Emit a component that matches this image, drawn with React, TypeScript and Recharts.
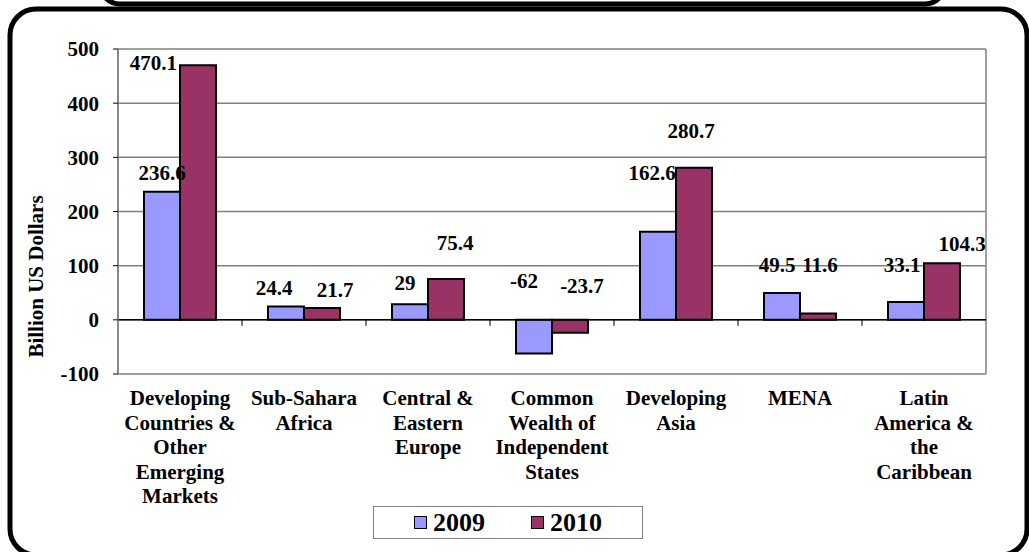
import { Bar, BarChart, CartesianGrid, LabelList, ReferenceLine, XAxis, YAxis } from "recharts";

const regions = [
  "Developing\nCountries &\nOther\nEmerging\nMarkets",
  "Sub-Sahara\nAfrica",
  "Central &\nEastern\nEurope",
  "Common\nWealth of\nIndependent\nStates",
  "Developing\nAsia",
  "MENA",
  "Latin\nAmerica &\nthe\nCaribbean",
];
const values2009 = [236.6, 24.4, 29, -62, 162.6, 49.5, 33.1];
const values2010 = [470.1, 21.7, 75.4, -23.7, 280.7, 11.6, 104.3];
const yTicks = [-100, 0, 100, 200, 300, 400, 500];
const seriesNames = ["2009", "2010"];

// hand-placed data labels in the original: [dx, dy] from the default spot
const nudge2009 = [[0, 0], [-12, 0], [-5, -2], [-10, -2], [-6, -40], [-5, -9], [-4, -18]];
const nudge2010 = [[0, 0], [13, 1], [9, -17], [12, 3], [-3, -18], [2, -30], [20, 0]];

const FONT = "'Liberation Serif', 'Times New Roman', serif";
const COLORS = ["#9999FF", "#993366"];
const GRID = "#808080";

const data = regions.map((name, i) => ({
  name,
  y2009: values2009[i],
  y2010: values2010[i],
}));

function RegionTick(props: any) {
  const { x, y, payload } = props;
  const lines = String(payload.value).split("\n");
  return (
    <text
      x={x}
      y={y + 31}
      textAnchor="middle"
      fontFamily={FONT}
      fontWeight="bold"
      fontSize={21}
      fill="#000"
    >
      {lines.map((line, i) => (
        <tspan key={i} x={x} dy={i === 0 ? 0 : 24.5}>
          {line}
        </tspan>
      ))}
    </text>
  );
}

function makeValueLabel(nudges: number[][]) {
  return function ValueLabel(props: any) {
    const vb = props.viewBox ?? props;
    const x = Number(vb.x ?? props.x);
    const y = Number(vb.y ?? props.y);
    const width = Number(vb.width ?? props.width);
    const height = Number(vb.height ?? props.height);
    const value = Number(props.value);
    const [dx, dy] = nudges[props.index ?? 0] ?? [0, 0];
    const top = Math.min(y, y + height);
    const style = { fontFamily: FONT, fontWeight: "bold" as const, fontSize: 21, fill: "#000" };

    // too close to the top of the plot: put it beside the bar
    if (top < 80) {
      return (
        <text x={x - 3 + dx} y={top + 5 + dy} textAnchor="end" {...style}>
          {value}
        </text>
      );
    }
    const lift = value < 0 ? 30 : 12;
    return (
      <text x={x + width / 2 + dx} y={top - lift + dy} textAnchor="middle" {...style}>
        {value}
      </text>
    );
  };
}

const Label2009 = makeValueLabel(nudge2009);
const Label2010 = makeValueLabel(nudge2010);

function ZeroLine(props: any) {
  const { x1, x2, y1 } = props;
  const step = (x2 - x1) / regions.length;
  const marks = regions.slice(1).map((_, i) => x1 + step * (i + 1));
  return (
    <g>
      <line x1={x1} x2={x2} y1={y1} y2={y1} stroke="#000" strokeWidth={1.5} />
      {marks.map((mx, i) => (
        <line key={i} x1={mx} x2={mx} y1={y1} y2={y1 + 6} stroke="#000" strokeWidth={1} />
      ))}
    </g>
  );
}

function AxisTitle(props: any) {
  const vb = props.viewBox ?? { x: 58, y: 49, width: 60, height: 325 };
  const cx = vb.x - 22;
  const cy = vb.y + vb.height * 0.7;
  return (
    <text
      x={cx}
      y={cy}
      transform={`rotate(-90, ${cx}, ${cy})`}
      textAnchor="middle"
      dominantBaseline="central"
      fontFamily={FONT}
      fontWeight="bold"
      fontSize={21}
      fill="#000"
    >
      Billion US Dollars
    </text>
  );
}

export default function App() {
  return (
    <div
      style={{
        position: "absolute",
        left: 0,
        top: 0,
        width: 1029,
        height: 552,
        background: "#FFFFFF",
        overflow: "hidden",
        fontFamily: FONT,
      }}
    >
      <BarChart
        width={1029}
        height={552}
        data={data}
        margin={{ top: 49, right: 43, bottom: 48, left: 58 }}
        barCategoryGap={26}
        barGap={0}
      >
        <CartesianGrid
          stroke={GRID}
          strokeWidth={1.5}
          verticalCoordinatesGenerator={({ offset }: any) => [offset.left, offset.left + offset.width]}
        />
        <XAxis
          dataKey="name"
          axisLine={false}
          tickLine={false}
          tickSize={0}
          tickMargin={0}
          interval={0}
          height={130}
          tick={<RegionTick />}
        />
        <YAxis
          domain={[-100, 500]}
          ticks={yTicks}
          width={60}
          axisLine={{ stroke: GRID, strokeWidth: 1.5 }}
          tickLine={{ stroke: "#000" }}
          tickSize={5}
          tickMargin={14}
          tick={{ fontFamily: FONT, fontWeight: "bold", fontSize: 21, fill: "#000" }}
          label={{ content: <AxisTitle /> } as any}
        />
        <ReferenceLine y={0} shape={<ZeroLine />} />
        <Bar dataKey="y2009" name={seriesNames[0]} fill={COLORS[0]} stroke="#000" strokeWidth={2} isAnimationActive={false}>
          <LabelList dataKey="y2009" content={<Label2009 />} />
        </Bar>
        <Bar dataKey="y2010" name={seriesNames[1]} fill={COLORS[1]} stroke="#000" strokeWidth={2} isAnimationActive={false}>
          <LabelList dataKey="y2010" content={<Label2010 />} />
        </Bar>
      </BarChart>

      {/* legend */}
      <div
        style={{
          position: "absolute",
          left: 373,
          top: 506,
          width: 268,
          height: 31,
          border: `1.5px solid ${GRID}`,
          display: "flex",
          alignItems: "center",
          justifyContent: "center",
          gap: 46,
        }}
      >
        {seriesNames.map((name, i) => (
          <div key={name} style={{ display: "flex", alignItems: "center", gap: 6 }}>
            <span
              style={{
                display: "inline-block",
                width: 11,
                height: 11,
                background: COLORS[i],
                border: "1.5px solid #000",
              }}
            />
            <span style={{ fontSize: 26, fontWeight: "bold", lineHeight: "26px", color: "#000" }}>{name}</span>
          </div>
        ))}
      </div>

      {/* rounded frames */}
      <svg
        width={1029}
        height={552}
        style={{ position: "absolute", left: 0, top: 0, pointerEvents: "none" }}
      >
        <rect x={100} y={-40} width={845} height={44} rx={20} fill="none" stroke="#000" strokeWidth={5} />
        <rect x={10} y={9} width={1017} height={546} rx={26} fill="none" stroke="#000" strokeWidth={5} />
      </svg>
    </div>
  );
}
